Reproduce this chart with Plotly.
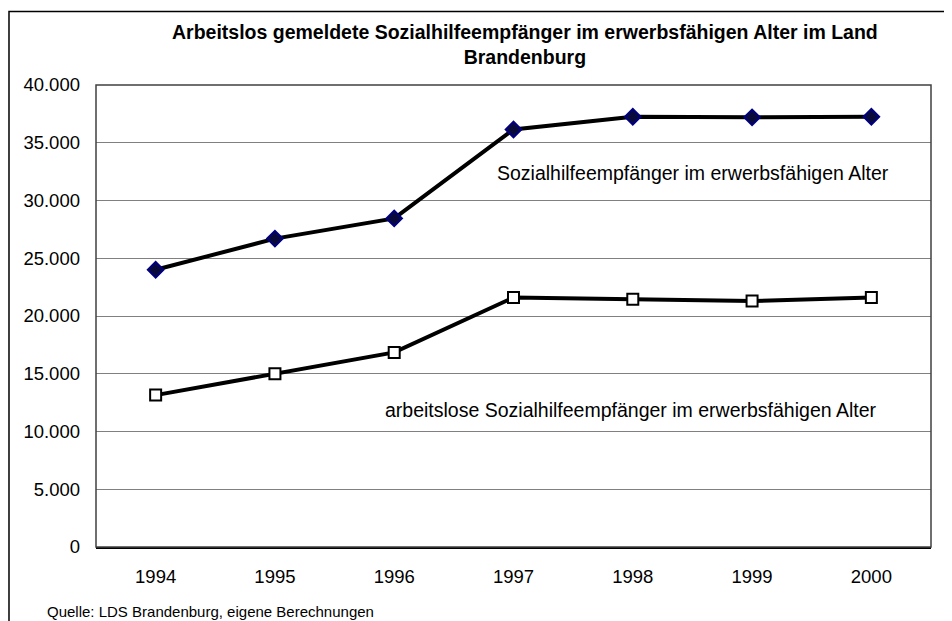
import plotly.graph_objects as go

years = ["1994", "1995", "1996", "1997", "1998", "1999", "2000"]
sozialhilfe = [24000, 26700, 28450, 36150, 37250, 37200, 37250]
arbeitslose = [13150, 15000, 16850, 21600, 21450, 21300, 21600]
y_ticks = [0, 5000, 10000, 15000, 20000, 25000, 30000, 35000, 40000]
y_tick_labels = ["0", "5.000", "10.000", "15.000", "20.000", "25.000", "30.000", "35.000", "40.000"]

title_text = "Arbeitslos gemeldete Sozialhilfeempfänger im erwerbsfähigen Alter im Land<br>Brandenburg"
label_upper = "Sozialhilfeempfänger im erwerbsfähigen Alter"
label_lower = "arbeitslose Sozialhilfeempfänger im erwerbsfähigen Alter"
source_text = "Quelle: LDS Brandenburg, eigene Berechnungen"

font_family = "Liberation Sans, Arial, sans-serif"

fig = go.Figure()
fig.add_trace(go.Scatter(
    x=years, y=sozialhilfe, mode="lines+markers",
    line=dict(color="black", width=4),
    marker=dict(symbol="diamond", size=12, color="#0a0a3a", line=dict(color="#000080", width=2)),
    showlegend=False, cliponaxis=False,
))
fig.add_trace(go.Scatter(
    x=years, y=arbeitslose, mode="lines+markers",
    line=dict(color="black", width=4),
    marker=dict(symbol="square", size=11, color="white", line=dict(color="black", width=2)),
    showlegend=False, cliponaxis=False,
))

fig.update_layout(
    width=944, height=613,
    margin=dict(l=88, r=21, t=77, b=74),
    paper_bgcolor="white", plot_bgcolor="white",
    font=dict(family=font_family, size=18.5, color="black"),
    xaxis=dict(
        type="category", range=[-0.5, 6.5], showgrid=False,
        showline=True, linecolor="black", linewidth=2, mirror=False,
        ticks="", tickfont=dict(size=18.5), ticklabelstandoff=12,
        zeroline=False,
    ),
    yaxis=dict(
        range=[0, 40000], tickvals=y_ticks, ticktext=y_tick_labels,
        showgrid=True, gridcolor="#808080", gridwidth=1,
        showline=False, ticks="", tickfont=dict(size=18.5),
        zeroline=False, ticklabelstandoff=15,
    ),
    shapes=[
        dict(type="rect", xref="paper", yref="paper", x0=0, x1=1, y0=0, y1=1,
             line=dict(color="#404040", width=1.5), fillcolor="rgba(0,0,0,0)", layer="above"),
        dict(type="rect", xref="paper", yref="paper", x0=-0.1042, x1=1.2, y0=-0.3, y1=1.159,
             line=dict(color="black", width=1.5), fillcolor="rgba(0,0,0,0)"),
    ],
    annotations=[
        dict(text="<b>" + title_text + "</b>", xref="paper", yref="paper",
             x=(525 - 96) / 835, y=(547 - 44.5) / 462, xanchor="center", yanchor="middle",
             showarrow=False, font=dict(size=19.5), align="center"),
        dict(text=label_upper, xref="paper", yref="paper",
             x=(495 - 96) / 835, y=(547 - 173) / 462, xanchor="left", yanchor="middle",
             showarrow=False, font=dict(size=19.5)),
        dict(text=label_lower, xref="paper", yref="paper",
             x=(383 - 96) / 835, y=(547 - 410) / 462, xanchor="left", yanchor="middle",
             showarrow=False, font=dict(size=19.5)),
        dict(text=source_text, xref="paper", yref="paper",
             x=(45 - 96) / 835, y=(547 - 611) / 462, xanchor="left", yanchor="middle",
             showarrow=False, font=dict(size=15)),
    ],
)

fig.write_html("out.html")
